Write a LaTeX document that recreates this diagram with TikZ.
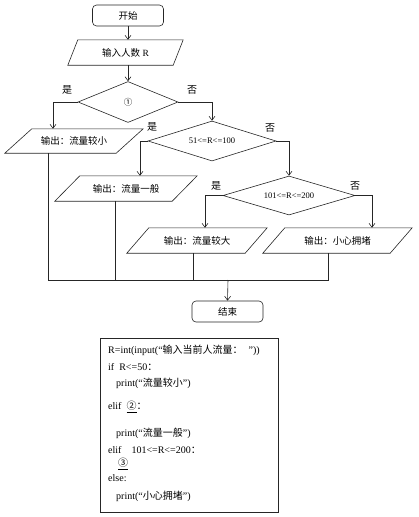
\documentclass[tikz,border=0pt]{standalone}
\usepackage{fontspec}
\setmainfont{Liberation Serif}
\newfontfamily\cjk{Noto Sans CJK SC}
\newcommand{\zh}[1]{{\cjk #1}}
\usetikzlibrary{shapes.geometric,arrows.meta}
\newcommand{\paral}[2]{\draw[line] (#1.south west) -- ([xshift=#2]#1.north west) -- (#1.north east) -- ([xshift=-#2]#1.south east) -- cycle;}
\tikzset{
  line/.style={draw=black!85, line width=0.6pt},
  arr/.style={line, -{Straight Barb[length=4pt,width=6pt]}},
  term/.style={line, rectangle, rounded corners=4pt, minimum width=71pt, minimum height=21pt, inner sep=0pt, font=\fontsize{9.5}{11}\selectfont},
  dec/.style={line, diamond, inner sep=0pt, aspect=3, font=\fontsize{8.5}{10}\selectfont},
  io/.style={rectangle, inner sep=0pt, font=\fontsize{9.5}{11}\selectfont},
  lbl/.style={font=\fontsize{10}{12}\selectfont\cjk, inner sep=0pt},
  codeline/.style={anchor=west, inner sep=0pt, font=\fontsize{10}{12}\selectfont},
}
\begin{document}
\begin{tikzpicture}[x=1pt,y=-1pt]
\useasboundingbox (0,0) rectangle (418,517);
% flowchart nodes
\node[term] (start) at (128,15.5) {\zh{开始}};
\node[io, minimum width=115pt, minimum height=25pt] (in) at (125.5,52.5) {\zh{输入人数} R};
\paral{in}{10pt}
\node[dec, minimum width=100pt, minimum height=41pt] (d1) at (128,102) {\zh{①}};
\node[io, minimum width=138pt, minimum height=24pt] (o1) at (74,141) {\zh{输出：流量较小}};
\paral{o1}{27pt}
\node[dec, minimum width=128pt, minimum height=40pt] (d2) at (212,141) {51<=R<=100};
\node[io, minimum width=142pt, minimum height=25pt] (o2) at (126,188.5) {\zh{输出：流量一般}};
\paral{o2}{25pt}
\node[dec, minimum width=132pt, minimum height=39pt] (d3) at (289,195.5) {101<=R<=200};
\node[io, minimum width=140pt, minimum height=25pt] (o3) at (197,240.5) {\zh{输出：流量较大}};
\paral{o3}{22pt}
\node[io, minimum width=149pt, minimum height=25pt] (o4) at (337.5,240.5) {\zh{输出：小心拥堵}};
\paral{o4}{22pt}
\node[term] (end) at (227.5,311.5) {\zh{结束}};
\coordinate (join) at (228,280);
% connectors
\draw[arr] (start.south) -- (start.south |- in.north);
\draw[arr] (in.south -| d1.north) -- (d1.north);
\draw[arr] (d1.west) -| ([xshift=-21pt]o1.north);
\draw[arr] (d1.east) -| (d2.north);
\draw[arr] (d2.west) -| ([xshift=14pt]o2.north);
\draw[arr] (d2.east) -| (d3.north);
\draw[arr] (d3.west) -| ([xshift=8pt]o3.north);
\draw[arr] (d3.east) -| ([xshift=34.5pt]o4.north);
\draw[line] ([xshift=-26pt]o1.south) |- ([xshift=-9.5pt]o4.south |- join) -- ([xshift=-9.5pt]o4.south);
\draw[line] ([xshift=-11pt]o2.south) -- ([xshift=-11pt]o2.south |- join);
\draw[line] ([xshift=-4pt]o3.south) -- ([xshift=-4pt]o3.south |- join);
\draw[arr] (join) -- (end.north);
% yes/no labels
\node[lbl] (y1) at (67,90) {是};
\node[lbl] (n1) at (192,90) {否};
\node[lbl] (y2) at (152,127) {是};
\node[lbl] (n2) at (270,128) {否};
\node[lbl] (y3) at (216,186) {是};
\node[lbl] (n3) at (355,186) {否};
% code box
\node[line, rectangle, minimum width=178pt, minimum height=174pt, inner sep=0pt] (code) at (189,425) {};
\node[codeline] (c1) at (108,350) {R=int(input(“\zh{输入当前人流量：}\hspace{6pt}”))};
\node[codeline] (c2) at (108,367) {if\ \ R<=50\zh{：}};
\node[codeline] (c3) at (116,383) {print(“\zh{流量较小}”)};
\node[codeline] (c4) at (108,407) {elif\ \ \underline{\zh{②}}\zh{：}};
\node[codeline] (c5) at (116,433) {print(“\zh{流量一般}”)};
\node[codeline] (c6) at (108,450) {elif\ \ \ \ 101<=R<=200\zh{：}};
\node[codeline] (c7) at (118,464) {\underline{\zh{③}}};
\node[codeline] (c8) at (108,478) {else:};
\node[codeline] (c9) at (116,496) {print(“\zh{小心拥堵}”)};
\end{tikzpicture}
\end{document}
